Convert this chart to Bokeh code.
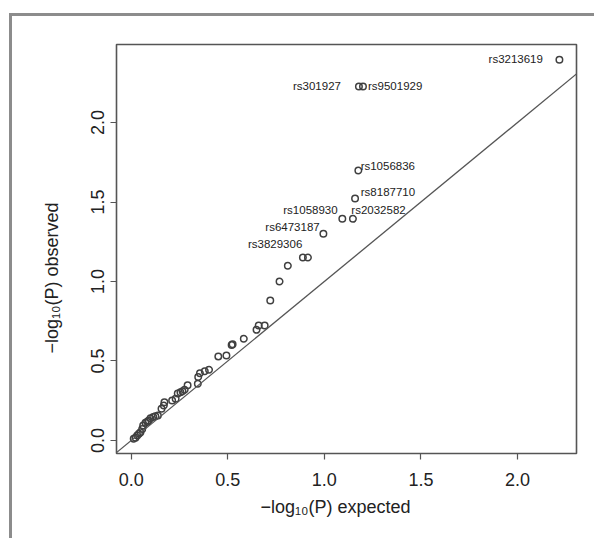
from bokeh.plotting import figure
from bokeh.models import Range1d, FixedTicker, Slope, ColumnDataSource, Title
from bokeh.embed import file_html
from bokeh.resources import INLINE
from bokeh.core.properties import value

# ---- data ----
expected = [0.013, 0.022, 0.031, 0.040, 0.048, 0.057, 0.062, 0.074, 0.083, 0.091,
            0.100, 0.114, 0.125, 0.138, 0.157, 0.169, 0.172, 0.212, 0.230, 0.241,
            0.255, 0.266, 0.277, 0.292, 0.345, 0.347, 0.356, 0.381, 0.403, 0.451,
            0.493, 0.520, 0.525, 0.583, 0.649, 0.660, 0.691, 0.720, 0.768, 0.811,
            0.889, 0.915, 0.995, 1.093, 1.148, 1.159, 1.176, 1.179, 1.200, 2.217]
observed = [0.011, 0.017, 0.031, 0.042, 0.052, 0.073, 0.094, 0.111, 0.118, 0.126,
            0.140, 0.147, 0.152, 0.157, 0.199, 0.220, 0.241, 0.252, 0.262, 0.296,
            0.304, 0.310, 0.319, 0.348, 0.357, 0.400, 0.423, 0.436, 0.445, 0.528,
            0.535, 0.600, 0.606, 0.640, 0.696, 0.723, 0.723, 0.881, 1.000, 1.099,
            1.151, 1.151, 1.300, 1.394, 1.394, 1.522, 1.698, 2.226, 2.226, 2.395]

snp_names = ["rs3213619", "rs301927", "rs9501929", "rs1056836", "rs8187710",
             "rs2032582", "rs1058930", "rs6473187", "rs3829306"]
snp_expected = [2.217, 1.179, 1.200, 1.176, 1.159, 1.148, 1.093, 0.995, 0.889]
snp_observed = [2.395, 2.226, 2.226, 1.698, 1.522, 1.394, 1.394, 1.300, 1.151]

tick_values = [0.0, 0.5, 1.0, 1.5, 2.0]
tick_labels = ["0.0", "0.5", "1.0", "1.5", "2.0"]

x_title = "\u2212log\u2081\u2080(P) expected"
y_title = "\u2212log\u2081\u2080(P) observed"

# ---- label styling (pixel offsets / alignment) ----
snp_dx = [-16.5, -18, 5, 2.3, 5.7, -1.6, -4.7, -3.7, -0.6]
snp_dy = [-1, -1, -1, -5, -6.3, -9.3, -9.3, -7.3, -13]
snp_align = ["right", "right", "left", "left", "left", "left", "right", "right", "right"]

FONT = "Liberation Sans"
DARK = "#222222"
LINE = "#555555"

p = figure(width=585, height=525, output_backend="svg", toolbar_location=None,
           x_range=Range1d(-0.0761, 2.3055), y_range=Range1d(-0.0818, 2.4906),
           min_border_left=104, min_border_right=21, min_border_top=28,
           min_border_bottom=88, margin=(13, 0, 0, 9))
p.styles = {"border-top": "3px solid #8c8c8c", "border-left": "3px solid #8c8c8c"}
p.background_fill_color = "white"
p.border_fill_color = "white"
p.grid.visible = False
p.outline_line_color = LINE
p.outline_line_width = 1.6

for ax in (p.xaxis[0], p.yaxis[0]):
    ax.ticker = FixedTicker(ticks=tick_values)
    ax.major_label_overrides = dict(zip(tick_values, tick_labels))
    ax.axis_line_color = None
    ax.major_tick_in = 0
    ax.major_tick_out = 6
    ax.major_tick_line_color = LINE
    ax.major_tick_line_width = 1.2
    ax.minor_tick_line_color = None
    ax.major_label_text_font = FONT
    ax.major_label_text_font_size = "18px"
    ax.major_label_text_color = DARK
p.yaxis.major_label_orientation = "vertical"
p.xaxis.major_label_standoff = 13
p.yaxis.major_label_standoff = 6

p.add_layout(Slope(gradient=1, y_intercept=0, line_color=LINE, line_width=1.3))

p.scatter(expected, observed, marker="circle", size=6.5, fill_color=None,
          line_color="#404040", line_width=1.5)

src = ColumnDataSource(dict(x=snp_expected, y=snp_observed, text=snp_names,
                            dx=snp_dx, dy=snp_dy, align=snp_align))
p.text(x="x", y="y", text="text", x_offset="dx", y_offset="dy", text_align="align",
       text_baseline="middle", text_font=value(FONT), text_font_size="11.5px",
       text_color=DARK, source=src)

# axis titles
p.add_layout(Title(text=x_title, align="left", offset=144, standoff=13,
                   text_font=FONT, text_font_size="18px", text_font_style="normal",
                   text_color=DARK), "below")
p.add_layout(Title(text=y_title, align="left", offset=100, standoff=54,
                   text_font=FONT, text_font_size="18px", text_font_style="normal",
                   text_color=DARK), "left")

open("out.html", "w").write(file_html(p, INLINE))
